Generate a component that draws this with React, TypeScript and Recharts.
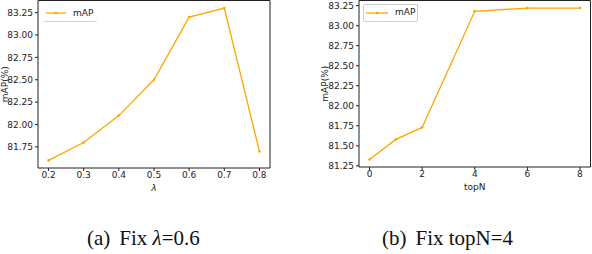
import { LineChart, Line, XAxis, YAxis, ReferenceArea, Legend, Label } from "recharts"

// (a) varying lambda, topN fixed
const lambdaValues = [0.2, 0.3, 0.4, 0.5, 0.6, 0.7, 0.8]
const lambdaMap = [81.6, 81.8, 82.1, 82.5, 83.2, 83.3, 81.7]
const lambdaXTicks = [0.2, 0.3, 0.4, 0.5, 0.6, 0.7, 0.8]
const lambdaYTicks = [81.75, 82.0, 82.25, 82.5, 82.75, 83.0, 83.25]

// (b) varying topN, lambda fixed
const topNValues = [0, 1, 2, 4, 6, 8]
const topNMap = [81.33, 81.58, 81.73, 83.18, 83.22, 83.22]
const topNXTicks = [0, 2, 4, 6, 8]
const topNYTicks = [81.25, 81.5, 81.75, 82.0, 82.25, 82.5, 82.75, 83.0, 83.25]

const ORANGE = "#ffa500"
const TICK_FONT = "DejaVu Sans"
const tickStyle = { fontSize: 9, fontFamily: TICK_FONT, fill: "#222" }

// matplotlib-like 5% padding around the data range
function padded(vals: number[]): [number, number] {
  const lo = Math.min(...vals)
  const hi = Math.max(...vals)
  const m = (hi - lo) * 0.05
  return [lo - m, hi + m]
}

function LegendBox({ variant }: { variant: "a" | "b" }) {
  const full = variant === "b"
  return (
    <div
      style={{
        width: full ? 55 : 54,
        height: full ? 18 : 17,
        boxSizing: "border-box",
        border: full ? "1px solid #cccccc" : "none",
        borderBottom: "1px solid #d4d4d4",
        borderRadius: 2,
        background: "rgba(255,255,255,0.8)",
        position: "relative",
      }}
    >
      <svg width={24} height={10} style={{ position: "absolute", left: full ? 2 : 3, top: 3 }}>
        <line x1={0} y1={5} x2={full ? 22 : 20} y2={5} stroke={ORANGE} strokeWidth={1.3} />
        <circle cx={full ? 11 : 10} cy={5} r={1.3} fill={ORANGE} />
      </svg>
      <span
        style={{
          position: "absolute",
          left: full ? 31 : 30,
          top: full ? 1 : 2,
          fontFamily: TICK_FONT,
          fontSize: 9,
          lineHeight: "12px",
          color: "#222",
        }}
      >
        mAP
      </span>
    </div>
  )
}

function YLabel({ viewBox, bx }: any) {
  const cy = viewBox.y + viewBox.height / 2
  return (
    <text
      x={bx}
      y={cy}
      transform={`rotate(-90, ${bx}, ${cy})`}
      textAnchor="middle"
      fontFamily={TICK_FONT}
      fontSize={9}
      fill="#222"
    >
      mAP(%)
    </text>
  )
}

type PanelProps = {
  xs: number[]
  ys: number[]
  xTicks: number[]
  yTicks: number[]
  xLabel: string
  italicX?: boolean
  yAxisWidth: number
  rightMargin: number
  labelX: number
  legendLeft: number
  legendTop: number
  variant: "a" | "b"
}

function Panel(p: PanelProps) {
  const data = p.xs.map((x, i) => ({ x, map: p.ys[i] }))
  const xDom = padded(p.xs)
  const yDom = padded(p.ys)
  return (
    <LineChart width={296} height={215} data={data} margin={{ top: 0.5, right: p.rightMargin, bottom: 0, left: 0 }}>
      <XAxis
        dataKey="x"
        type="number"
        domain={xDom}
        ticks={p.xTicks}
        allowDataOverflow
        axisLine={false}
        tickSize={3}
        tickMargin={1}
        tickLine={{ stroke: "#222" }}
        tick={tickStyle}
        height={30}
        tickFormatter={(v: number) => (p.variant === "a" ? v.toFixed(1) : String(v))}
      >
        <Label
          value={p.xLabel}
          position="insideBottom"
          offset={7}
          style={{ fontFamily: TICK_FONT, fontSize: 9, fill: "#222", fontStyle: p.italicX ? "italic" : "normal" }}
        />
      </XAxis>
      <YAxis
        type="number"
        domain={yDom}
        ticks={p.yTicks}
        allowDataOverflow
        axisLine={false}
        tickSize={3}
        tickMargin={2}
        tickLine={{ stroke: "#222" }}
        tick={tickStyle}
        width={p.yAxisWidth}
        tickFormatter={(v: number) => v.toFixed(2)}
      >
        <Label content={(props: any) => <YLabel {...props} bx={p.labelX} />} />
      </YAxis>
      <ReferenceArea
        x1={xDom[0]}
        x2={xDom[1]}
        y1={yDom[0]}
        y2={yDom[1]}
        fill="none"
        stroke="#222"
        strokeWidth={1}
        ifOverflow="visible"
      />
      <Legend
        content={() => <LegendBox variant={p.variant} />}
        wrapperStyle={{ position: "absolute", left: p.legendLeft, top: p.legendTop, width: "auto" }}
      />
      <Line
        dataKey="map"
        stroke={ORANGE}
        strokeWidth={1.3}
        dot={{ r: 1.3, fill: ORANGE, stroke: ORANGE, strokeWidth: 0 }}
        isAnimationActive={false}
      />
    </LineChart>
  )
}

export default function App() {
  return (
    <div style={{ position: "absolute", left: 0, top: 0, width: 592, height: 254, background: "#fff", overflow: "hidden" }}>
      <div style={{ position: "absolute", left: 0, top: 0 }}>
        <Panel
          xs={lambdaValues}
          ys={lambdaMap}
          xTicks={lambdaXTicks}
          yTicks={lambdaYTicks}
          xLabel="λ"
          italicX
          yAxisWidth={38}
          rightMargin={26}
          labelX={7.5}
          legendLeft={43}
          legendTop={5}
          variant="a"
        />
      </div>
      <div style={{ position: "absolute", left: 296, top: 0 }}>
        <Panel
          xs={topNValues}
          ys={topNMap}
          xTicks={topNXTicks}
          yTicks={topNYTicks}
          xLabel="topN"
          yAxisWidth={63}
          rightMargin={1.5}
          labelX={32}
          legendLeft={67}
          legendTop={4}
          variant="b"
        />
      </div>
      <svg width={592} height={254} style={{ position: "absolute", left: 0, top: 0, pointerEvents: "none" }}>
        <text x={87} y={245} fontFamily="Liberation Serif" fontSize={21} fill="#111">
          (a)
          <tspan dx={9}>Fix </tspan>
          <tspan fontStyle="italic">λ</tspan>=0.6
        </text>
        <text x={382} y={245} fontFamily="Liberation Serif" fontSize={21} fill="#111">
          (b)
          <tspan dx={9}>Fix topN=4</tspan>
        </text>
      </svg>
    </div>
  )
}
